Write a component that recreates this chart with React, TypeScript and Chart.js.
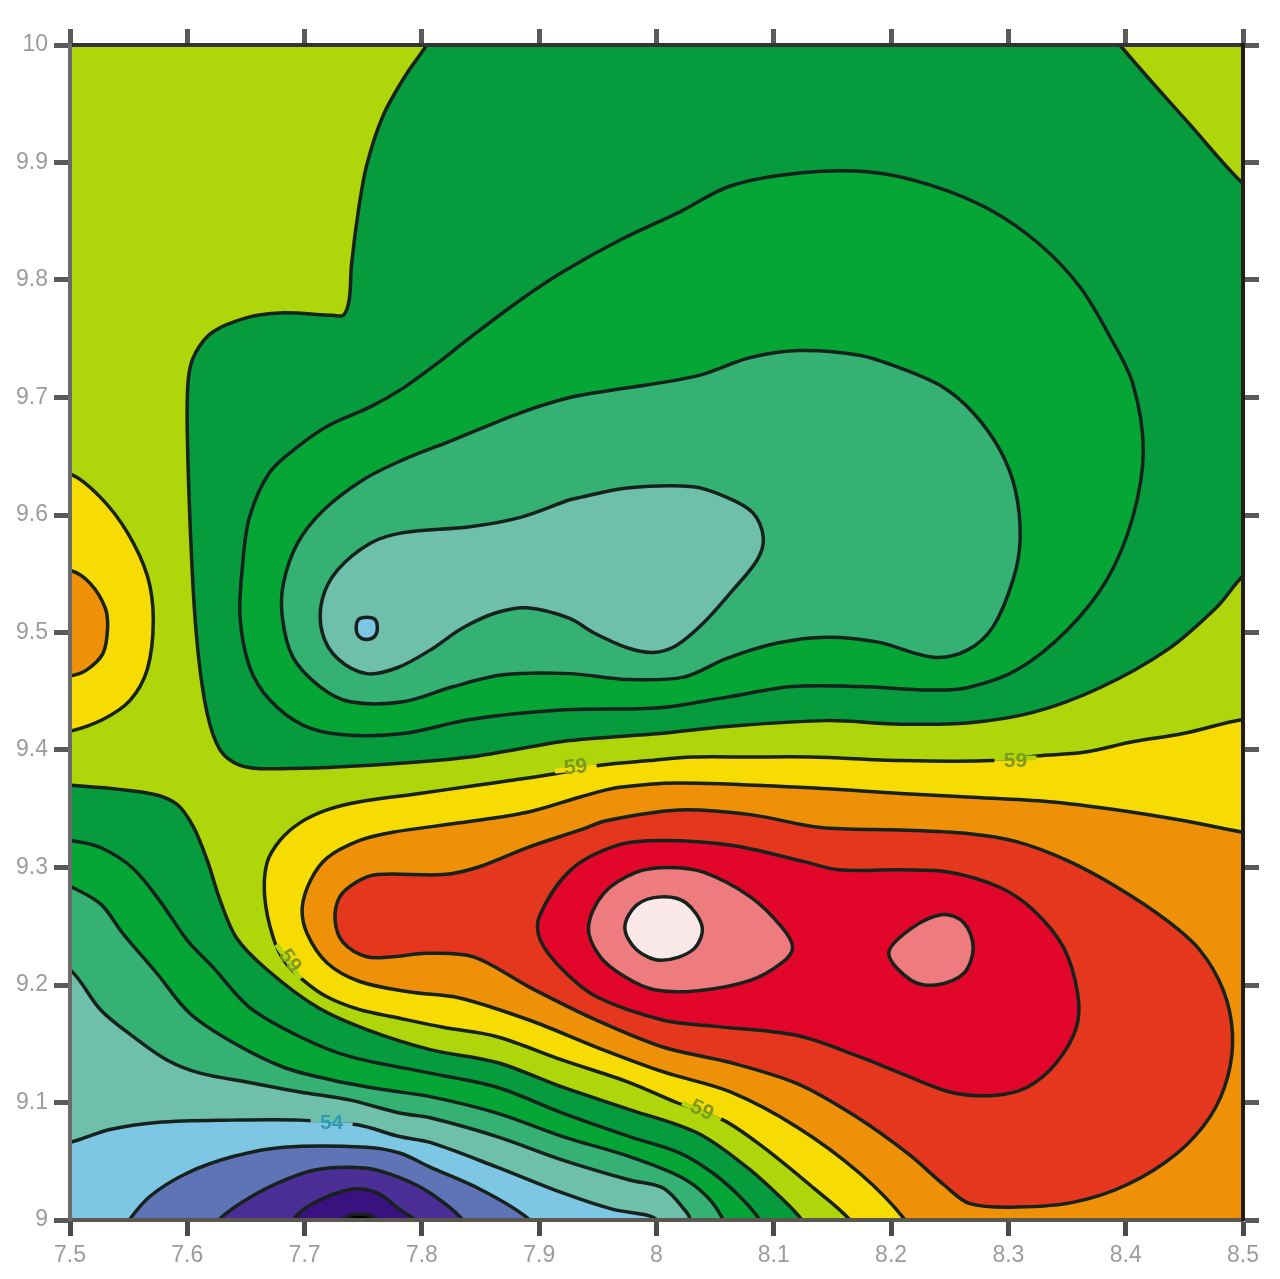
import { useEffect, useRef } from "react";
import { Chart, registerables } from "chart.js";

Chart.register(...registerables);

type P = [number, number];

const xTickLabels = ["7.5", "7.6", "7.7", "7.8", "7.9", "8", "8.1", "8.2", "8.3", "8.4", "8.5"];
const yTickLabels = ["9", "9.1", "9.2", "9.3", "9.4", "9.5", "9.6", "9.7", "9.8", "9.9", "10"];

// Upper trough, level by level
const upperDarkGreen: P[] = [[7.82,10.03],[7.804,10],[7.786,9.974],[7.767,9.94],[7.753,9.898],[7.746,9.86],[7.74,9.813],[7.738,9.783],[7.733,9.77],[7.724,9.77],[7.679,9.772],[7.651,9.768],[7.622,9.756],[7.607,9.738],[7.601,9.717],[7.6,9.67],[7.604,9.556],[7.609,9.485],[7.617,9.431],[7.628,9.4],[7.645,9.387],[7.67,9.384],[7.756,9.387],[7.841,9.394],[7.926,9.408],[8.003,9.414],[8.06,9.42],[8.145,9.425],[8.208,9.422],[8.265,9.423],[8.321,9.432],[8.378,9.453],[8.435,9.485],[8.478,9.522],[8.5,9.548],[8.549,9.587],[8.549,9.842],[8.5,9.882],[8.455,9.932],[8.421,9.97],[8.395,10],[8.37,10.03]];
const upperGreen: P[] = [[7.884,9.783],[7.841,9.751],[7.813,9.729],[7.784,9.708],[7.756,9.692],[7.722,9.677],[7.694,9.658],[7.67,9.636],[7.653,9.598],[7.647,9.556],[7.645,9.513],[7.653,9.471],[7.67,9.443],[7.699,9.421],[7.733,9.413],[7.784,9.414],[7.841,9.426],[7.918,9.434],[8.003,9.436],[8.06,9.445],[8.116,9.454],[8.173,9.454],[8.233,9.451],[8.265,9.453],[8.307,9.468],[8.35,9.502],[8.384,9.545],[8.406,9.598],[8.415,9.655],[8.406,9.712],[8.387,9.751],[8.361,9.794],[8.327,9.83],[8.284,9.86],[8.233,9.881],[8.182,9.892],[8.122,9.891],[8.063,9.88],[8.02,9.858],[7.969,9.834],[7.922,9.808]];
const upperSeaGreen: P[] = [[7.926,9.7],[7.884,9.687],[7.827,9.664],[7.784,9.647],[7.75,9.63],[7.716,9.604],[7.694,9.576],[7.682,9.542],[7.681,9.513],[7.69,9.479],[7.713,9.454],[7.739,9.441],[7.784,9.441],[7.827,9.454],[7.869,9.464],[7.926,9.465],[7.975,9.46],[8.023,9.462],[8.06,9.478],[8.103,9.491],[8.145,9.496],[8.188,9.492],[8.236,9.479],[8.265,9.485],[8.287,9.505],[8.304,9.545],[8.31,9.579],[8.306,9.621],[8.293,9.655],[8.27,9.687],[8.244,9.709],[8.208,9.725],[8.173,9.736],[8.122,9.74],[8.08,9.734],[8.037,9.719],[7.994,9.711],[7.96,9.706]];
const upperTeal: P[] = [[7.926,9.613],[7.884,9.598],[7.841,9.59],[7.784,9.585],[7.756,9.576],[7.728,9.553],[7.715,9.528],[7.715,9.5],[7.728,9.478],[7.753,9.465],[7.779,9.47],[7.807,9.485],[7.835,9.504],[7.864,9.517],[7.89,9.521],[7.926,9.512],[7.946,9.5],[7.975,9.487],[7.997,9.483],[8.017,9.489],[8.04,9.508],[8.065,9.536],[8.086,9.562],[8.091,9.581],[8.082,9.602],[8.06,9.615],[8.031,9.624],[7.975,9.623],[7.935,9.615]];
const upperDot: P[] = [[7.753,9.513],[7.76,9.511],[7.762,9.504],[7.76,9.497],[7.753,9.494],[7.746,9.497],[7.744,9.504],[7.746,9.511]];

// Left edge lobe
const lobeYellow: P[] = [[7.474,9.635],[7.5,9.635],[7.526,9.615],[7.549,9.585],[7.566,9.548],[7.571,9.511],[7.566,9.469],[7.551,9.442],[7.528,9.426],[7.5,9.416],[7.474,9.413]];
const lobeOrange: P[] = [[7.474,9.555],[7.5,9.553],[7.517,9.542],[7.53,9.521],[7.532,9.503],[7.528,9.482],[7.514,9.468],[7.5,9.463],[7.474,9.461]];

// Lower-left trough
const lowerDarkGreen: P[] = [[7.466,9.37],[7.5,9.37],[7.568,9.363],[7.591,9.354],[7.605,9.335],[7.617,9.306],[7.628,9.272],[7.642,9.24],[7.668,9.213],[7.711,9.181],[7.753,9.162],[7.807,9.145],[7.864,9.134],[7.92,9.113],[7.977,9.094],[8.035,9.074],[8.077,9.045],[8.105,9.02],[8.124,9],[8.139,8.974],[7.466,8.974]];
const lowerGreen: P[] = [[7.466,9.325],[7.5,9.323],[7.526,9.317],[7.554,9.299],[7.577,9.271],[7.6,9.238],[7.622,9.215],[7.653,9.181],[7.696,9.156],[7.739,9.139],[7.807,9.125],[7.864,9.113],[7.92,9.091],[7.977,9.071],[8.02,9.057],[8.048,9.04],[8.071,9.02],[8.088,9],[8.101,8.974],[7.466,8.974]];
const lowerSeaGreen: P[] = [[7.466,9.298],[7.5,9.284],[7.526,9.269],[7.545,9.244],[7.574,9.21],[7.602,9.176],[7.639,9.151],[7.682,9.13],[7.724,9.119],[7.767,9.111],[7.807,9.105],[7.864,9.091],[7.92,9.071],[7.977,9.054],[8.02,9.037],[8.043,9.02],[8.057,9],[8.067,8.974],[7.466,8.974]];
const lowerTeal: P[] = [[7.466,9.23],[7.5,9.213],[7.526,9.179],[7.554,9.156],[7.583,9.136],[7.611,9.125],[7.653,9.117],[7.696,9.109],[7.739,9.102],[7.781,9.091],[7.807,9.087],[7.864,9.071],[7.92,9.051],[7.977,9.034],[8.006,9.027],[8.026,9.006],[8.029,9],[8.037,8.974],[7.466,8.974]];
const lowerSky: P[] = [[7.466,9.06],[7.5,9.066],[7.534,9.077],[7.574,9.083],[7.639,9.085],[7.696,9.085],[7.745,9.081],[7.781,9.071],[7.807,9.066],[7.864,9.045],[7.92,9.023],[7.963,9.009],[7.992,9.004],[8,9],[8.007,8.974],[7.466,8.974]];
const lowerBlue: P[] = [[7.534,8.974],[7.549,8.998],[7.568,9.02],[7.6,9.04],[7.639,9.054],[7.682,9.062],[7.753,9.062],[7.781,9.057],[7.807,9.045],[7.85,9.026],[7.892,9],[7.909,8.974]];
const lowerIndigo: P[] = [[7.611,8.974],[7.625,8.998],[7.645,9.014],[7.676,9.031],[7.711,9.043],[7.753,9.044],[7.781,9.036],[7.807,9.023],[7.835,9],[7.85,8.974]];
const lowerViolet: P[] = [[7.679,8.974],[7.69,9],[7.707,9.014],[7.739,9.026],[7.762,9.023],[7.781,9.009],[7.796,8.998],[7.807,8.974]];
const lowerCore: P[] = [[7.722,8.987],[7.734,9.002],[7.747,9.005],[7.76,9.002],[7.773,8.987]];

// Ridge, level by level
const ridgeYellow: P[] = [[8.549,9.43],[8.5,9.426],[8.449,9.414],[8.406,9.407],[8.364,9.398],[8.325,9.395],[8.287,9.391],[8.208,9.391],[8.131,9.394],[8.08,9.394],[8.031,9.394],[7.994,9.391],[7.952,9.387],[7.915,9.38],[7.875,9.374],[7.847,9.37],[7.798,9.363],[7.747,9.356],[7.719,9.349],[7.696,9.338],[7.679,9.323],[7.668,9.304],[7.666,9.275],[7.673,9.241],[7.683,9.22],[7.699,9.204],[7.719,9.19],[7.747,9.179],[7.775,9.173],[7.818,9.164],[7.864,9.156],[7.92,9.136],[7.977,9.117],[8.017,9.1],[8.057,9.085],[8.091,9.062],[8.133,9.028],[8.165,9],[8.182,8.974],[8.549,8.974]];
const ridgeOrange: P[] = [[8.549,9.323],[8.5,9.33],[8.449,9.34],[8.393,9.349],[8.335,9.356],[8.265,9.36],[8.208,9.363],[8.126,9.368],[8.019,9.372],[7.967,9.368],[7.935,9.36],[7.89,9.347],[7.832,9.338],[7.775,9.33],[7.747,9.323],[7.719,9.308],[7.705,9.289],[7.698,9.266],[7.702,9.244],[7.719,9.219],[7.747,9.203],[7.79,9.194],[7.832,9.189],[7.892,9.17],[7.949,9.147],[8.006,9.126],[8.063,9.109],[8.12,9.079],[8.173,9.04],[8.212,9],[8.225,8.974],[8.549,8.974]];
const ridgeScarlet: P[] = [[7.726,9.255],[7.73,9.275],[7.745,9.288],[7.762,9.294],[7.818,9.294],[7.847,9.3],[7.89,9.317],[7.935,9.332],[7.958,9.34],[8.019,9.349],[8.08,9.345],[8.14,9.334],[8.208,9.332],[8.265,9.329],[8.307,9.322],[8.35,9.306],[8.393,9.283],[8.435,9.255],[8.463,9.23],[8.483,9.196],[8.491,9.159],[8.487,9.122],[8.472,9.088],[8.444,9.057],[8.401,9.03],[8.355,9.015],[8.307,9.011],[8.267,9.014],[8.245,9.03],[8.215,9.056],[8.17,9.088],[8.12,9.116],[8.063,9.134],[8.006,9.147],[7.949,9.17],[7.892,9.198],[7.844,9.224],[7.804,9.227],[7.775,9.224],[7.753,9.224],[7.733,9.236]];
const ridgeRed: P[] = [[7.9,9.258],[7.927,9.298],[7.967,9.319],[8.004,9.323],[8.064,9.319],[8.126,9.305],[8.156,9.298],[8.208,9.298],[8.25,9.296],[8.293,9.283],[8.321,9.264],[8.347,9.232],[8.359,9.193],[8.358,9.164],[8.341,9.134],[8.316,9.113],[8.287,9.106],[8.25,9.109],[8.208,9.125],[8.173,9.139],[8.12,9.157],[8.048,9.165],[8.006,9.17],[7.949,9.19],[7.92,9.213],[7.901,9.238]];
const ridgePink: P[] = [[7.942,9.249],[7.955,9.278],[7.983,9.296],[8.01,9.3],[8.04,9.296],[8.08,9.275],[8.107,9.249],[8.116,9.232],[8.107,9.219],[8.08,9.204],[8.034,9.195],[7.998,9.196],[7.973,9.207],[7.952,9.224]];
const ridgeWhite: P[] = [[7.973,9.249],[7.983,9.268],[8.004,9.275],[8.025,9.27],[8.039,9.249],[8.031,9.23],[8.004,9.221],[7.983,9.23]];
const ridgePinkEast: P[] = [[8.198,9.227],[8.217,9.248],[8.244,9.26],[8.262,9.253],[8.27,9.232],[8.262,9.21],[8.238,9.2],[8.217,9.204]];

const LIME = "#aed60a";
const LINE = "#18221c";

// [points, colour, closed contour?], painted in this order
const layers: [P[], string, boolean][] = [
  [ridgeYellow, "#f7dc04", false],
  [ridgeOrange, "#ee9108", false],
  [ridgeScarlet, "#e4371d", true],
  [ridgeRed, "#e2062a", true],
  [ridgePink, "#ee7c7f", true],
  [ridgeWhite, "#fbe8e8", true],
  [ridgePinkEast, "#ee7c7f", true],
  [upperDarkGreen, "#069b3c", false],
  [upperGreen, "#06a636", true],
  [upperSeaGreen, "#35b273", true],
  [upperTeal, "#6fc0aa", true],
  [upperDot, "#7dc7e4", true],
  [lobeYellow, "#f7dc04", false],
  [lobeOrange, "#ee9108", false],
  [lowerDarkGreen, "#069b3c", false],
  [lowerGreen, "#06a636", false],
  [lowerSeaGreen, "#35b273", false],
  [lowerTeal, "#6fc0aa", false],
  [lowerSky, "#7dc7e4", false],
  [lowerBlue, "#5f73b7", false],
  [lowerIndigo, "#4c2f96", false],
  [lowerViolet, "#3a1280", false],
  [lowerCore, "#000000", false],
];

// [text, x, y, rotation in degrees, colour, colour above the line, colour below the line]
const contourLabels: [string, number, number, number, string, string, string][] = [
  ["59", 7.931, 9.386, -6, "#7d9a20", LIME, "#f7dc04"],
  ["59", 8.306, 9.391, 0, "#7d9a20", LIME, "#f7dc04"],
  ["59", 8.039, 9.094, 25, "#7d9a20", "#f7dc04", LIME],
  ["59", 7.688, 9.221, 55, "#7d9a20", "#f7dc04", LIME],
  ["54", 7.723, 9.083, 0, "#2f9ab5", "#6fc0aa", "#7dc7e4"],
];

const fieldBackground = {
  id: "fieldBackground",
  beforeDatasetsDraw(chart: any) {
    const { ctx, chartArea: a } = chart;
    ctx.save();
    ctx.fillStyle = LIME;
    ctx.fillRect(a.left, a.top, a.right - a.left, a.bottom - a.top);
    ctx.restore();
  },
};

// Closed contours are real loops, so their splines have no seam
const closedLoops = {
  id: "closedLoops",
  beforeDatasetUpdate(chart: any, args: any) {
    const line = chart.getDatasetMeta(args.index).dataset;
    if (line && chart.data.datasets[args.index].closedContour) {
      line._loop = true;
      line._fullLoop = true;
    }
  },
};

const labelPlugin = {
  id: "contourLabels",
  afterDatasetsDraw(chart: any) {
    const { ctx, scales } = chart;
    for (const [text, x, y, rot, color, above, below] of contourLabels) {
      ctx.save();
      ctx.translate(scales.x.getPixelForValue(x), scales.y.getPixelForValue(y));
      ctx.rotate((rot * Math.PI) / 180);
      ctx.fillStyle = above;
      ctx.fillRect(-21, -5, 42, 5);
      ctx.fillStyle = below;
      ctx.fillRect(-21, 0, 42, 5);
      ctx.fillStyle = color;
      ctx.font = "bold 21px 'Liberation Sans'";
      ctx.textAlign = "center";
      ctx.textBaseline = "middle";
      ctx.fillText(text, 0, 1);
      ctx.restore();
    }
  },
};

const tickFont = { family: "'Liberation Sans'", size: 23 };
const tickColor = "#9c9c9c";

function axisGrid(color: string) {
  return { drawOnChartArea: false, drawTicks: true, tickLength: 16, tickWidth: 5, tickColor: color, color, z: 1 };
}

export default function App() {
  const ref = useRef<HTMLCanvasElement>(null);
  useEffect(() => {
    const chart = new Chart(ref.current!, {
      type: "scatter",
      data: {
        datasets: layers.map(([pts, color, closed], i) => ({
          data: pts.map(([x, y]) => ({ x, y })),
          closedContour: closed,
          showLine: true,
          fill: "shape",
          backgroundColor: color,
          borderColor: LINE,
          borderWidth: 3.5,
          pointRadius: 0,
          tension: 0.33,
          order: layers.length - i,
        })),
      },
      options: {
        animation: false,
        responsive: false,
        devicePixelRatio: 1,
        layout: { padding: 0 },
        plugins: { legend: { display: false }, tooltip: { enabled: false } },
        events: [],
        scales: {
          x: {
            type: "linear", position: "bottom", min: 7.5, max: 8.5,
            afterFit: (s: any) => { s.height = 59; },
            grid: axisGrid("#4a4a4a"),
            border: { display: true, color: "#5c5650", width: 4, z: 2 },
            ticks: { stepSize: 0.1, autoSkip: false, maxRotation: 0, padding: 6, font: tickFont, color: tickColor,
              callback: (_v: any, i: number) => xTickLabels[i] },
          },
          x2: {
            type: "linear", position: "top", min: 7.5, max: 8.5,
            afterFit: (s: any) => { s.height = 45; },
            grid: axisGrid("#5a5a5a"),
            border: { display: true, color: "#333333", width: 4, z: 2 },
            ticks: { stepSize: 0.1, autoSkip: false, display: false },
          },
          y: {
            type: "linear", position: "left", min: 9, max: 10,
            afterFit: (s: any) => { s.width = 70; },
            grid: axisGrid("#5a5a5a"),
            border: { display: true, color: "#6a6a6a", width: 4, z: 2 },
            ticks: { stepSize: 0.1, autoSkip: false, padding: 6, font: tickFont, color: tickColor,
              callback: (_v: any, i: number) => yTickLabels[i] },
          },
          y2: {
            type: "linear", position: "right", min: 9, max: 10,
            afterFit: (s: any) => { s.width = 37; },
            grid: axisGrid("#5a5a5a"),
            border: { display: true, color: "#221c14", width: 4, z: 2 },
            ticks: { stepSize: 0.1, autoSkip: false, display: false },
          },
        },
      } as any,
      plugins: [closedLoops, fieldBackground, labelPlugin],
    } as any);
    return () => chart.destroy();
  }, []);
  return (
    <canvas
      ref={ref}
      width={1280}
      height={1279}
      style={{ position: "fixed", left: 0, top: 0, width: 1280, height: 1279, display: "block", filter: "blur(0.7px)" }}
    />
  );
}
